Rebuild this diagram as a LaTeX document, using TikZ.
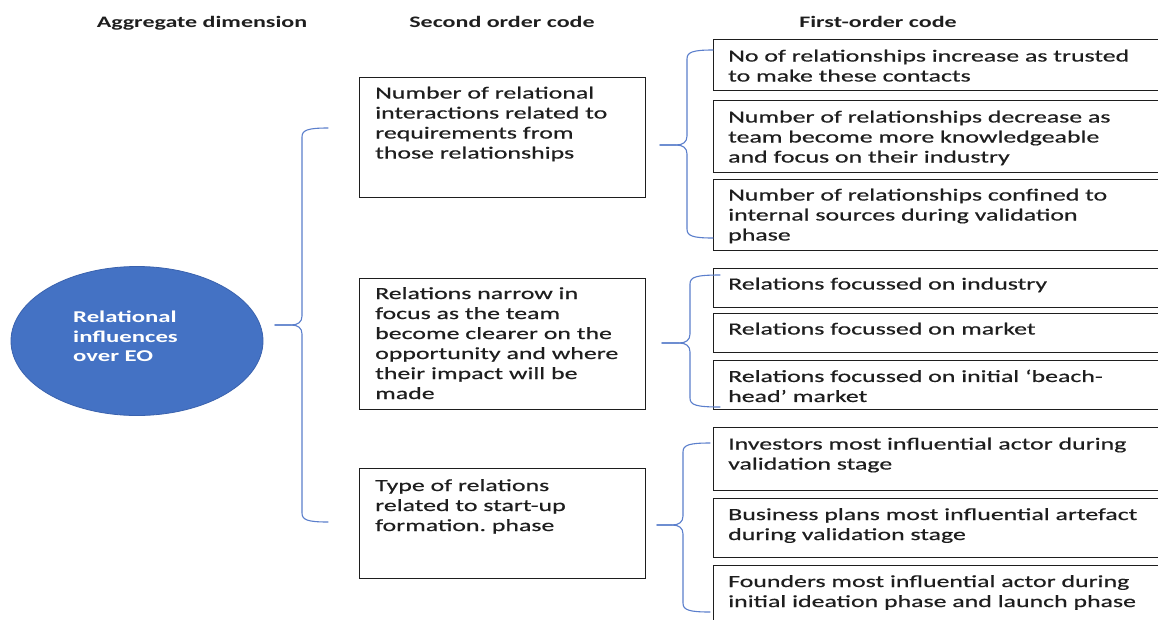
\documentclass[tikz,border=0pt]{standalone}
\usepackage{fontspec}
\usetikzlibrary{shapes.geometric}
\setmainfont{Carlito}[FakeStretch=1.5]
\newfontfamily\bodyfont{Carlito}[FakeStretch=1.52, FakeBold=0.5]
\frenchspacing
\definecolor{ovalblue}{HTML}{4472C4}
\definecolor{ovaledge}{HTML}{3A62AE}
\definecolor{bracecol}{HTML}{5B7FCC}
\definecolor{ink}{HTML}{1E1E1E}
% Curly brace opening to the right:
% #1 end x, #2 stem x, #3 tip x, #4 top y, #5 tip y, #6 bottom y
\newcommand{\curlybrace}[6]{%
  \draw[brace] (#1,#4) .. controls ({#2+6},#4) and (#2,{#4+2}) .. (#2,{#4+9})
    -- (#2,{#5-9}) .. controls (#2,{#5-3}) and ({#2-4},#5) .. ({#2-11},#5) -- (#3,#5);
  \draw[brace] (#3,#5) -- ({#2-11},#5) .. controls ({#2-4},#5) and (#2,{#5+3}) .. (#2,{#5+9})
    -- (#2,{#6-9}) .. controls (#2,{#6-2}) and ({#2+6},#6) .. (#1,#6);
}
\begin{document}
\begin{tikzpicture}[x=1pt,y=-1pt,
  box/.style={draw=ink, line width=1.1pt, anchor=north west, inner sep=0pt},
  txt/.style={anchor=north west, inner sep=0pt, align=left, text=ink,
              font=\bodyfont\fontsize{17}{20}\selectfont},
  head/.style={anchor=base, inner sep=0pt, text=ink,
               font=\fontsize{16}{19}\selectfont\bfseries},
  brace/.style={draw=bracecol, line width=1.1pt, line cap=round}
]
\useasboundingbox (0,0) rectangle (1158,619);
\clip (0,0) rectangle (1158,619);
\fill[white] (0,0) rectangle (1158,619);

% column headings
\node[head] (h1) at (202,27) {Aggregate dimension};
\node[head] (h2) at (502,27) {Second order code};
\node[head] (h3) at (878,27) {First-order code};

% aggregate dimension
\node[ellipse, draw=ovaledge, fill=ovalblue, line width=0.8pt,
      minimum width=252, minimum height=149, inner sep=0pt] (agg) at (137,341) {};
\node[anchor=north west, inner sep=0pt, align=left, text=white,
      font=\fontsize{16.5}{19.5}\selectfont\bfseries] (aggt) at (73,311)
  {Relational\\influences\\over EO};

% second order codes
\node[box, minimum width=286, minimum height=120] (sA) at (359,77) {};
\node[box, minimum width=286, minimum height=131] (sB) at (359,278) {};
\node[box, minimum width=286, minimum height=110] (sC) at (359,468) {};

\node[txt] (tA) at (375,86.5) {Number of relational\\interactions related to\\requirements from\\those relationships};
\node[txt] (tB) at (375,287) {Relations narrow in\\focus as the team\\become clearer on the\\opportunity and where\\their impact will be\\made};
\node[txt] (tC) at (375,479) {Type of relations\\related to start-up\\formation. phase};

% first order codes
\node[box, minimum width=500, minimum height=51] (f1) at (713,39) {};
\node[box, minimum width=500, minimum height=72] (f2) at (713,100) {};
\node[box, minimum width=500, minimum height=71] (f3) at (713,179) {};
\node[box, minimum width=500, minimum height=39] (f4) at (713,268) {};
\node[box, minimum width=500, minimum height=39] (f5) at (713,313) {};
\node[box, minimum width=500, minimum height=49] (f6) at (713,360) {};
\node[box, minimum width=500, minimum height=63] (f7) at (713,427) {};
\node[box, minimum width=500, minimum height=59] (f8) at (713,498) {};
\node[box, minimum width=500, minimum height=80] (f9) at (713,565) {};

\node[txt] (t1) at (728,49.5) {No of relationships increase as trusted\\to make these contacts};
\node[txt] (t2) at (728,110.5) {Number of relationships decrease as\\team become more knowledgeable\\and focus on their industry};
\node[txt] (t3) at (728,188.5) {Number of relationships confined to\\internal sources during validation\\phase};
\node[txt] (t4) at (728,277.5) {Relations focussed on industry};
\node[txt] (t5) at (728,322.5) {Relations focussed on market};
\node[txt] (t6) at (728,369.5) {Relations focussed on initial ‘beach-\\head’ market};
\node[txt] (t7) at (728,437.5) {Investors most influential actor during\\validation stage};
\node[txt] (t8) at (728,508) {Business plans most influential artefact\\during validation stage};
\node[txt] (t9) at (728,575) {Founders most influential actor during\\initial ideation phase and launch phase};

% grouping braces
\curlybrace{328}{302}{275}{128}{325}{522}
\curlybrace{713}{687}{660}{50}{145}{238}
\curlybrace{720}{690}{662}{275}{343}{407}
\curlybrace{710}{683}{657}{443}{525}{612}
\end{tikzpicture}
\end{document}
